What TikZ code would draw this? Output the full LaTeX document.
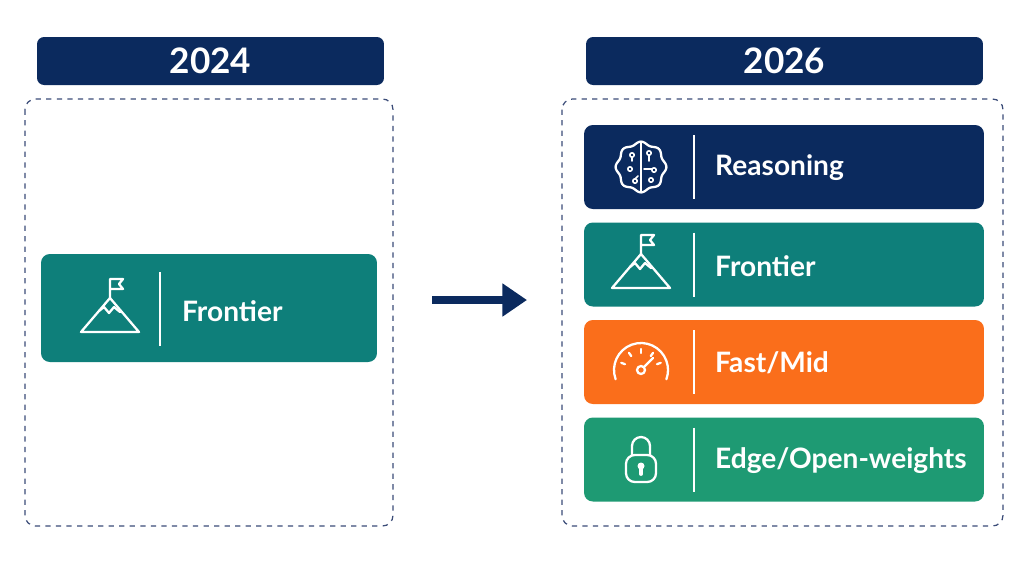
\documentclass[tikz,border=0pt]{standalone}
\usepackage{fontspec}
\setmainfont{Lato}
\usetikzlibrary{arrows.meta, positioning}
\definecolor{navy}{HTML}{0B2A5E}
\definecolor{teal1}{HTML}{0E7F7A}
\definecolor{orange1}{HTML}{FA6E1B}
\definecolor{green1}{HTML}{1E9A73}
\definecolor{dash}{HTML}{3B4C78}
\tikzstyle{header} = [rectangle, fill=navy, rounded corners=4pt, minimum height=0.96cm, text=white, font=\bfseries\fontsize{20}{24}\selectfont]
\tikzstyle{card} = [rectangle, rounded corners=5pt, minimum width=8cm, minimum height=1.68cm]
\tikzstyle{label} = [text=white, anchor=west, font=\bfseries\fontsize{16}{19}\selectfont]
\tikzstyle{frame} = [draw=dash, dashed, rounded corners=6pt, line width=0.7pt]
\tikzstyle{divider} = [draw=white!70, line width=0.6pt]
\tikzstyle{arrow} = [line width=4pt, draw=navy, -{Triangle[length=14pt, width=18pt]}]
\tikzset{
  icon/.style={draw=white, line width=1.3pt, line join=round, line cap=round},
  mountain/.pic={
    \draw[icon] (-29,20) -- (0,-14) -- (29,20) -- cycle;
    \draw[icon] (-11,-1) -- (-6,-5) -- (-1,1) -- (4,-5) -- (10,0);
    \draw[icon] (0,-14) -- (0,-33) -- (13,-33) -- (9,-28) -- (13,-23) -- (0,-23);
  },
  brain/.pic={
    \draw[icon] plot[domain=0:360, samples=121, smooth] ({(24+1.4*cos(8*\x))*cos(\x)}, {(24+1.4*cos(8*\x))*sin(\x)});
    \draw[icon] (0,-24) -- (0,24);
    \foreach \p/\q in {-9/-12, 8/-14, -11/2, 13/3, -6/14, 10/13} {
      \draw[icon, line width=0.9pt] (\p,\q) circle (2.2);
    }
    \draw[icon, line width=0.9pt] (-9,-10) -- (-9,-6) (8,-12) -- (8,-6) (3,2) -- (11,2) (-6,12) -- (-3,9);
  },
  gauge/.pic={
    \draw[icon] (160:27) arc (160:380:27);
    \foreach \a in {200,235,270,305,340} {
      \draw[icon] (\a:17) -- (\a:21);
    }
    \draw[icon] (-45:4) -- (-45:17);
    \draw[icon] (0,0) circle (4);
  },
  padlock/.pic={
    \draw[icon, rounded corners=5pt] (-15,-3) rectangle (15,24);
    \draw[icon] (-9,-3) -- (-9,-12) arc (180:360:9) -- (9,-3);
    \fill[white] (0,8) circle (3.5);
    \draw[icon, line width=2.2pt] (0,8) -- (0,16);
  }
}
\begin{document}
\begin{tikzpicture}[x=0.02cm, y=-0.02cm]
  \useasboundingbox (0,0) rectangle (1024,576);
  % left column
  \node (hd_old) [header, minimum width=6.94cm] at (210.5,61) {2024};
  \draw[frame] (25,99) rectangle (393,526);
  \node (front_old) [card, fill=teal1, minimum width=6.72cm, minimum height=2.16cm] at (209,308) {};
  \pic at (110,312) {mountain};
  \draw[divider] (160,272) -- (160,346);
  \node [label] at (176,311) {Frontier};

  % right column
  \node (hd_new) [header, minimum width=7.94cm] at (784.5,61) {2026};
  \draw[frame] (562,99) rectangle (1003,526);
  \node (reason) [card, fill=navy] at (784,167) {};
  \node (front_new) [card, fill=teal1] at (784,264.5) {};
  \node (fast) [card, fill=orange1] at (784,362) {};
  \node (edge) [card, fill=green1] at (784,459.5) {};
  \pic at (641,167) {brain};
  \pic at (641,268) {mountain};
  \pic at (641,370) {gauge};
  \pic at (641,458) {padlock};
  \foreach \n in {reason, front_new, fast, edge} {
    \draw[divider] ([yshift=0.64cm]\n.center -| 694,0) -- ([yshift=-0.64cm]\n.center -| 694,0);
  }
  \node [label] at (709,168) {Reasoning};
  \node [label] at (709,266) {Frontier};
  \node [label] at (709,363) {Fast/Mid};
  \node [label] at (709,461) {Edge/Open-weights};

  % transition
  \coordinate (arr_a) at (432,300);
  \coordinate (arr_b) at (527,300);
  \draw[arrow] (arr_a) -- (arr_b);
\end{tikzpicture}
\end{document}
